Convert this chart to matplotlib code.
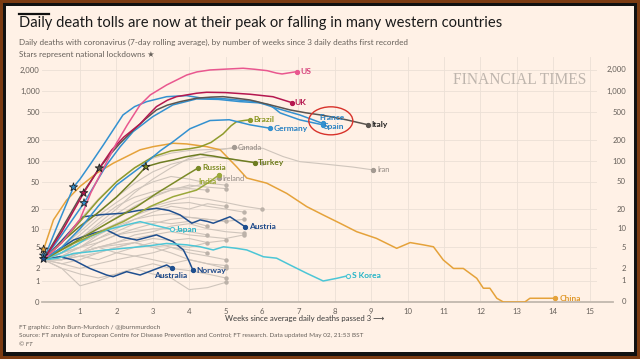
import matplotlib
matplotlib.use("Agg")
import matplotlib.pyplot as plt
import numpy as np
from matplotlib.patches import Rectangle, Ellipse
from matplotlib.lines import Line2D
from matplotlib.transforms import IdentityTransform

plt.rcParams["font.family"] = ["Lato", "DejaVu Sans"]

W, H = 640, 359

# ---------------- data (weeks since 3 daily deaths, 7-day avg deaths) ----------------
us_weeks = [0, 0.5, 1.0, 1.3, 1.69, 2.0, 2.3, 2.65, 2.93, 3.38, 3.93, 4.21, 4.57, 5.0, 5.48, 5.8, 6.14, 6.4, 6.55, 6.96]
us_vals = [3, 6, 14, 35, 88, 180, 330, 634, 880, 1220, 1690, 1870, 1995, 2050, 2110, 2040, 1950, 1800, 1750, 1890]

uk_weeks = [0, 0.5, 1.1, 1.5, 1.87, 2.2, 2.65, 2.9, 3.1, 3.4, 3.65, 4.2, 4.48, 5.0, 5.67, 6.3, 6.82]
uk_vals = [3, 9, 34.5, 75, 144, 220, 340, 470, 600, 740, 832, 930, 960, 950, 900, 830, 683]

italy_weeks = [0, 0.5, 1.0, 1.53, 1.82, 2.1, 2.47, 2.8, 3.1, 3.4, 3.75, 4.2, 4.6, 4.93, 5.3, 5.67, 6.2, 6.77, 7.2, 7.6, 8.0, 8.33, 8.6, 8.92]
italy_vals = [3, 10, 30, 79, 123, 180, 279, 400, 538, 630, 706, 790, 820, 832, 790, 746, 640, 538, 490, 457, 420, 388, 360, 330]

spain_weeks = [0, 0.4, 0.82, 1.0, 1.27, 1.64, 2.18, 2.5, 2.83, 3.38, 3.93, 4.3, 4.93, 5.4, 5.85, 6.4, 7.04, 7.67]
spain_vals = [3, 12, 42, 55, 88, 170, 456, 600, 706, 831, 860, 800, 780, 740, 706, 568, 456, 345]

france_weeks = [0, 0.5, 1.11, 1.4, 1.73, 2.1, 2.46, 3.0, 3.55, 4.2, 4.8, 5.4, 5.9, 6.22, 6.5, 7.04, 7.67]
france_vals = [3, 8, 24.6, 45, 88, 160, 264, 432, 634, 772, 760, 706, 680, 634, 487, 388, 330]

germany_weeks = [0, 0.5, 1.0, 1.5, 2.0, 2.74, 3.2, 3.56, 4.02, 4.57, 5.1, 5.67, 6.22]
germany_vals = [3, 5, 10, 22, 45, 88, 140, 190, 290, 380, 390, 330, 295]

brazil_weeks = [0, 0.5, 1.0, 1.5, 2.0, 2.5, 3.0, 3.5, 4.0, 4.3, 4.6, 4.93, 5.15, 5.3, 5.5, 5.67]
brazil_vals = [3, 6, 13, 27, 50, 80, 115, 140, 150, 160, 185, 245, 320, 366, 380, 390]

turkey_weeks = [0, 0.45, 1.0, 1.46, 2.0, 2.5, 2.81, 3.2, 3.56, 3.9, 4.3, 4.66, 5.0, 5.3, 5.8]
turkey_vals = [3, 5.8, 11, 17, 30, 55, 83, 95, 104, 115, 125, 118, 110, 104, 95]

russia_weeks = [0, 0.63, 1.27, 1.91, 2.56, 3.1, 3.56, 3.9, 4.25]
russia_vals = [3, 5.1, 8.5, 13.7, 21.7, 34, 48, 62, 80]

india_weeks = [0, 0.82, 1.46, 2.19, 2.92, 3.56, 4.2, 4.5, 4.82]
india_vals = [3, 5.8, 8.5, 12.9, 21.7, 30.5, 38, 48, 63]

china_weeks = [0, 0.27, 0.63, 1.0, 1.46, 1.91, 2.65, 3.01, 3.56, 3.93, 4.48, 4.85, 5.30, 5.58,
               6.13, 6.68, 7.23, 7.68, 8.14, 8.60, 9.14, 9.70, 10.07, 10.43, 10.71, 10.98,
               11.26, 11.53, 11.9, 12.08, 12.26, 12.45, 12.63, 13.22, 13.36, 14.05]
china_vals = [4.6, 13.7, 27, 43, 67, 93, 145, 161, 180, 176, 161, 145, 83, 57,
              48, 34, 21.7, 16.3, 12.2, 9, 7.05, 4.8, 6.0, 5.5, 5.1, 2.96,
              2.0, 2.0, 1.17, 0.57, 0.57, 0.13, 0, 0, 0.13, 0.13]

japan_weeks = [0, 0.45, 0.9, 1.27, 1.73, 2.28, 2.65, 3.01, 3.3, 3.52]
japan_vals = [3, 3.9, 5.5, 7.5, 9.6, 11.5, 12.9, 11.5, 10.5, 9.8]

skorea_weeks = [0, 0.4, 0.82, 1.3, 1.73, 2.2, 2.65, 3.0, 3.38, 3.93, 4.3, 4.66, 4.94, 5.3,
                5.58, 6.04, 6.4, 6.77, 7.23, 7.68, 8.05, 8.37]
skorea_vals = [3, 3.2, 3.9, 4.2, 4.5, 4.8, 5.1, 5.4, 5.8, 5.5, 5.1, 4.5, 5.1, 4.8,
               4.5, 3.4, 3.2, 2.36, 1.56, 0.99, 1.17, 1.37]

austria_weeks = [0, 0.5, 1.09, 1.6, 2.19, 2.6, 3.1, 3.45, 3.75, 4.07, 4.3, 4.5, 4.66, 5.12, 5.53]
austria_vals = [3, 6.5, 15.3, 16.5, 17.3, 19, 20.5, 19, 16.3, 12.2, 13.7, 13.0, 12.2, 15.3, 10.8]

norway_weeks = [0, 0.4, 0.82, 1.37, 1.73, 2.1, 2.56, 3.1, 3.56, 3.84, 3.98, 4.1]
norway_vals = [3, 4.5, 6.6, 8.5, 9.6, 7.5, 6.6, 8.0, 6.2, 4.5, 2.96, 1.85]

australia_weeks = [0, 0.45, 0.82, 1.27, 1.73, 1.91, 2.28, 2.65, 3.01, 3.38, 3.54]
australia_vals = [3, 3.4, 2.96, 2.0, 1.42, 1.29, 1.7, 1.42, 1.85, 2.36, 2.0]

iran_weeks = [0, 0.5, 1, 1.5, 2, 2.5, 3, 3.5, 4, 4.5, 5, 5.5, 6.03, 6.58, 7.04, 7.5, 7.95, 8.5, 9.06]
iran_vals = [3, 6, 14, 28, 50, 80, 110, 130, 142, 146, 150, 156, 152, 116, 98, 93, 88, 82, 74.5]

canada_weeks = [0, 0.5, 1, 1.5, 2, 2.5, 3, 3.5, 4, 4.5, 5.0, 5.24]
canada_vals = [3, 4, 7, 12, 20, 35, 55, 80, 110, 135, 150, 157]

ireland_weeks = [0, 0.5, 1, 1.5, 2, 2.5, 3, 3.5, 4, 4.5, 4.82]
ireland_vals = [3, 4.5, 8, 14, 22, 30, 36, 40, 42, 48, 57]

# unlabelled grey countries, sampled every half week
half_weeks = [0, 0.5, 1, 1.5, 2, 2.5, 3, 3.5, 4, 4.5, 5, 5.5, 6, 6.5]
grey_series = [
    [3, 5, 10, 18, 30, 48, 70, 90, 105, 115, 110, 100, 95],
    [3, 4, 6, 10, 15, 22, 30, 38, 45, 42, 40],
    [3, 4, 5, 8, 12, 16, 20, 24, 25, 22, 20, 18],
    [3, 3.5, 5, 7, 10, 14, 18, 22, 20, 24, 22],
    [3, 4, 6, 9, 12, 16, 22, 26, 30, 28, 25, 22, 20],
    [3, 3, 4, 6, 8, 10, 12, 14, 15, 14, 13, 14],
    [3, 3.5, 4, 5, 6, 7, 8, 9, 8, 7.5, 7, 8],
    [3, 3, 3.5, 4, 5, 6, 7, 6.5, 7, 6, 6.5],
    [3, 2.5, 3, 4, 5, 6, 5, 5.5, 5, 6],
    [3, 2.5, 2, 2.5, 3, 3.5, 4, 5, 4.5, 4],
    [3, 2, 1.5, 1.2, 1.5, 2, 2.5, 2, 1.8, 1.5, 1.2],
    [3, 2, 0.7, 1, 1.5, 2, 1.5, 1.2, 0.5, 0.6, 0.9],
    [3, 3, 4, 5, 4, 5, 6, 5, 4, 3.5, 3],
    [3, 4, 6, 8, 11, 14, 16, 17, 15, 14, 13],
    [3, 3.5, 5, 7, 9, 12, 13, 12, 13, 11],
    [3, 4, 5, 6, 8, 9, 10, 10, 9, 8],
    [3, 3, 3.5, 3, 4, 3.5, 3, 2.5, 3, 2.5, 2],
    [3, 5, 9, 16, 25, 38, 50, 60, 55, 48, 45],
    [3, 4, 7, 11, 17, 25, 32, 38, 40, 38],
    [3, 3, 4, 5, 5.5, 6, 5, 4, 3, 2.5, 2.3],
    [3, 3.5, 4, 5, 6, 8, 9, 11, 12, 10, 9, 8.5],
]

# lockdown stars
star_weeks = [0, 0, 0, 0.82, 1.11, 1.1, 1.53, 2.81]
star_vals = [4.6, 3.6, 3.1, 42, 24.6, 34.5, 79, 83]
star_colors = ["#e5a23a", "#3391d0", "#1f4f8f", "#3391d0", "#3391d0", "#b5174f", "#5b5550", "#7d8b22"]

y_ticks = [0, 1, 2, 5, 10, 20, 50, 100, 200, 500, 1000, 2000]
y_labels = ["0", "1", "2", "5", "10", "20", "50", "100", "200", "500", "1,000", "2,000"]
x_ticks = list(range(1, 16))

# ---------------- styling ----------------
CREAM = "#fff1e6"
GRID = "#ebe0d6"
GREY_LINE = "#cfc5bc"
TEXT_GREY = "#66605a"


def fwd(y):
    return np.log10(np.clip(y, 0, None) + 1)


def inv(t):
    return 10 ** t - 1


fig = plt.figure(figsize=(W / 100, H / 100), dpi=100)
fig.patch.set_facecolor("#7b3b12")
fig.add_artist(Rectangle((3 / W, 3 / H), 1 - 6 / W, 1 - 6 / H, transform=fig.transFigure,
                         facecolor="#111111", edgecolor="none", zorder=0))
fig.add_artist(Rectangle((6 / W, 7 / H), 1 - 12 / W, 1 - 13 / H, transform=fig.transFigure,
                         facecolor=CREAM, edgecolor="none", zorder=0))

ax = fig.add_axes([41.8 / W, (H - 302) / H, 555.1 / W, 245 / H])
ax.set_facecolor("none")
ax.set_yscale("function", functions=(fwd, inv))
ax.set_ylim(0, 3050)
ax.set_xlim(-0.05, 15.2)
for s in ax.spines.values():
    s.set_visible(False)

ax.set_yticks(y_ticks)
ax.set_yticklabels(y_labels)
ax.set_xticks(x_ticks)
ax.set_xticklabels([str(t) for t in x_ticks])
ax.yaxis.set_minor_locator(matplotlib.ticker.NullLocator())
ax.tick_params(axis="y", length=0, pad=1.5, labelsize=5.6, labelcolor=TEXT_GREY)
ax.tick_params(axis="x", length=0, pad=4.5, labelsize=5.6, labelcolor=TEXT_GREY)

for v in y_ticks[1:]:
    ax.axhline(v, color=GRID, lw=0.6, zorder=0)
for t in x_ticks:
    ax.axvline(t, color=GRID, lw=0.6, zorder=0)
ax.axhline(0, xmin=0, xmax=1.029, color="#c2b8ae", lw=1.3, clip_on=False, zorder=1)

# right-hand y labels
for v, lab in zip(y_ticks, y_labels):
    ax.text(1.0524, v, lab, transform=ax.get_yaxis_transform(), ha="right", va="center",
            fontsize=5.6, color=TEXT_GREY)

# grey background countries
for vals in grey_series:
    wk = half_weeks[:len(vals)]
    ax.plot(wk, vals, color=GREY_LINE, lw=0.8, zorder=2)
    ax.plot(wk[-1], vals[-1], "o", ms=2.2, color="#bcb2a9", zorder=2)

labelled = [
    # weeks, vals, line colour, label, label colour, dx, dy, ha, bold, hollow
    (iran_weeks, iran_vals, GREY_LINE, "Iran", "#8f8680", 2.7, 0, "left", False, False),
    (canada_weeks, canada_vals, GREY_LINE, "Canada", "#8f8680", 2.7, 0, "left", False, False),
    (ireland_weeks, ireland_vals, GREY_LINE, "Ireland", "#8f8680", 2.2, 0, "left", False, False),
    (australia_weeks, australia_vals, "#1f4f8f", "Australia", "#1b4788", -1.5, -5.2, "center", True, False),
    (norway_weeks, norway_vals, "#1f4f8f", "Norway", "#1b4788", 2.2, 0, "left", True, False),
    (austria_weeks, austria_vals, "#1f4f8f", "Austria", "#1b4788", 2.7, 0, "left", True, False),
    (skorea_weeks, skorea_vals, "#4cc6d6", "S Korea", "#22b3c6", 2.7, 0, "left", True, True),
    (japan_weeks, japan_vals, "#4cc6d6", "Japan", "#22b3c6", 2.7, 0, "left", True, True),
    (china_weeks, china_vals, "#e5a23a", "China", "#e0982a", 3.2, 0, "left", True, False),
    (india_weeks, india_vals, "#9aa83a", "India", "#98a632", -1.5, -5.0, "right", True, False),
    (russia_weeks, russia_vals, "#7b8a27", "Russia", "#7d8b22", 2.7, 0, "left", True, False),
    (turkey_weeks, turkey_vals, "#6e7d22", "Turkey", "#6b7a1a", 2.5, 0, "left", True, False),
    (brazil_weeks, brazil_vals, "#8f9b2c", "Brazil", "#8a961f", 2.2, 0, "left", True, False),
    (germany_weeks, germany_vals, "#3391d0", "Germany", "#2680c2", 2.7, 0, "left", True, False),
    (spain_weeks, spain_vals, "#3391d0", "Spain", "#2680c2", 1.0, -2.0, "left", True, False),
    (france_weeks, france_vals, "#3391d0", "France", "#2680c2", -2.5, 5.6, "left", True, False),
    (italy_weeks, italy_vals, "#5b5550", "Italy", "#222222", 2.5, 0, "left", True, False),
    (uk_weeks, uk_vals, "#b5174f", "UK", "#b5174f", 2.0, 0, "left", True, False),
    (us_weeks, us_vals, "#e9578f", "US", "#d6427c", 2.2, 0, "left", True, False),
]

for wk, vals, col, lab, lcol, dx, dy, ha, bold, hollow in labelled:
    z = 3 if col == GREY_LINE else 4
    ax.plot(wk, vals, color=col, lw=1.1 if col != GREY_LINE else 0.8, zorder=z)
    ax.plot(wk[-1], vals[-1], "o", ms=3.0, color=col if col != GREY_LINE else "#a39a92",
            mfc=CREAM if hollow else None, mew=0.8, zorder=z + 1)
    ax.annotate(lab, (wk[-1], vals[-1]), xytext=(dx, dy), textcoords="offset points",
                ha=ha, va="center", fontsize=6.0 if bold else 5.3, color=lcol,
                fontweight="bold" if bold else "normal", zorder=7)

ax.scatter(star_weeks, star_vals, marker="*", s=38, c=star_colors, edgecolors="#222222",
           linewidths=0.6, zorder=6, clip_on=False)

# red ring round France / Spain
px, py = ax.transData.transform((france_weeks[-1], france_vals[-1]))
fig.add_artist(Ellipse((px + 8, py + 4), 44, 28, transform=IdentityTransform(),
                       fill=False, edgecolor="#d8322a", lw=1.0, zorder=8))

# ---------------- text ----------------
fig.add_artist(Line2D([19 / W, 49 / W], [1 - 14 / H] * 2, color="#111111", lw=1.6))
fig.text(19 / W, 1 - 23 / H, "Daily death tolls are now at their peak or falling in many western countries",
         fontsize=10.6, color="#1a1a1a", ha="left", va="center")
fig.text(19 / W, 1 - 42 / H,
         "Daily deaths with coronavirus (7-day rolling average), by number of weeks since 3 daily deaths first recorded",
         fontsize=5.85, color=TEXT_GREY, ha="left", va="center")
fig.text(19 / W, 1 - 54 / H, "Stars represent national lockdowns \u2605", fontsize=5.85, color=TEXT_GREY,
         ha="left", va="center")
fig.text(520 / W, 1 - 80 / H, "FINANCIAL TIMES", family="Liberation Serif", fontsize=11.2,
         color="#beb5ad", ha="center", va="center")

fig.text(305 / W, 1 - 318 / H, "Weeks since average daily deaths passed 3 \u27f6", fontsize=5.6,
         color="#3a3a3a", ha="center", va="center")
fig.text(19 / W, 1 - 327 / H, "FT graphic: John Burn-Murdoch / @jburnmurdoch", fontsize=4.55,
         color=TEXT_GREY, ha="left", va="center")
fig.text(19 / W, 1 - 336 / H,
         "Source: FT analysis of European Centre for Disease Prevention and Control; FT research. "
         "Data updated May 02, 21:53 BST", fontsize=4.55, color=TEXT_GREY, ha="left", va="center")
fig.text(19 / W, 1 - 345 / H, "\u00a9 FT", fontsize=4.55, color=TEXT_GREY, ha="left", va="center",
         style="italic")

fig.savefig("out.png", dpi=100, facecolor=fig.get_facecolor())
